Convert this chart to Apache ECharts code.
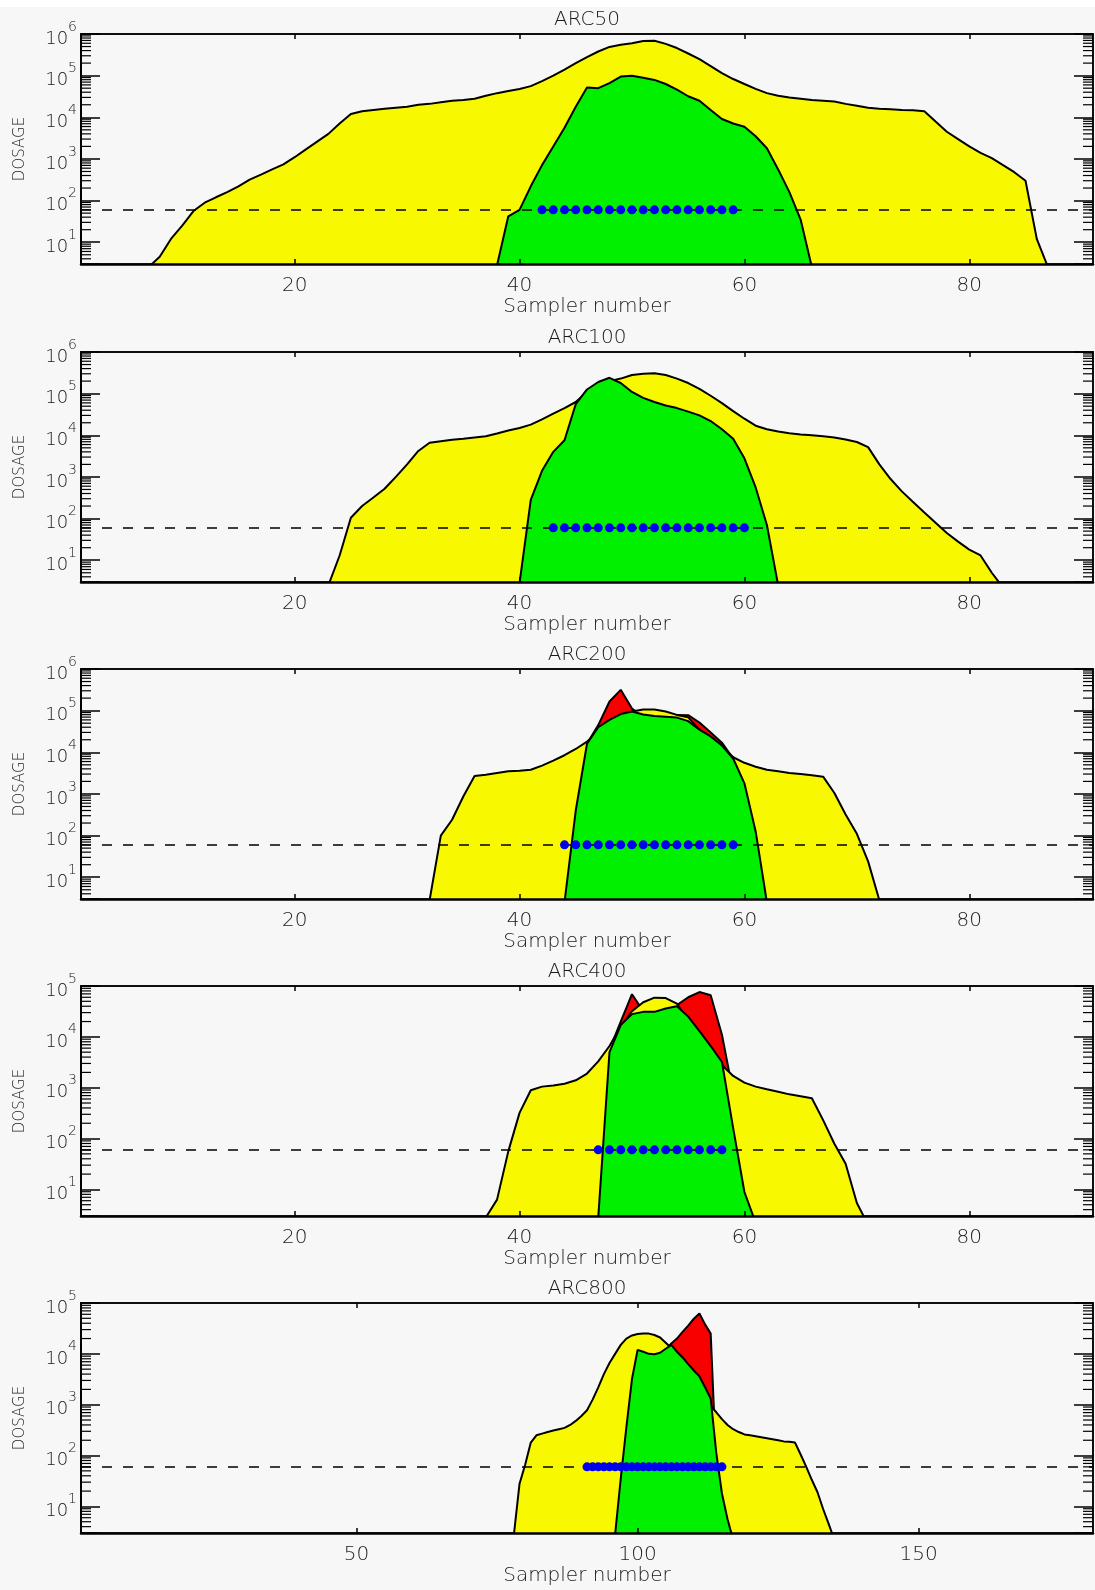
<!DOCTYPE html>
<html>
<head>
<meta charset="utf-8">
<script src="https://cdn.jsdelivr.net/npm/echarts@6/dist/echarts.min.js"></script>
<style>
html,body{margin:0;padding:0;background:#f7f7f7;}
#strip{position:absolute;left:0;top:0;width:1095px;height:7px;background:#ffffff;}
#chart{position:absolute;left:0;top:0;width:1095px;height:1590px;}
</style>
</head>
<body>
<div id="strip"></div>
<div id="chart"></div>
<script>
// ---------------- DATA ----------------
const TITLES = ['ARC50', 'ARC100', 'ARC200', 'ARC400', 'ARC800'];
const X_LABEL = 'Sampler number';
const Y_LABEL = 'DOSAGE';
const THRESHOLD = 60;

const X_TICKS_91 = [20, 40, 60, 80];
const X_TICKS_181 = [50, 100, 150];
const MINOR_TICKS_1E6 = [4,5,6,7,8,9,20,30,40,50,60,70,80,90,200,300,400,500,600,700,800,900,
  2000,3000,4000,5000,6000,7000,8000,9000,20000,30000,40000,50000,60000,70000,80000,90000,
  200000,300000,400000,500000,600000,700000,800000,900000];
const MINOR_TICKS_1E5 = [4,5,6,7,8,9,20,30,40,50,60,70,80,90,200,300,400,500,600,700,800,900,
  2000,3000,4000,5000,6000,7000,8000,9000,20000,30000,40000,50000,60000,70000,80000,90000];

// [sampler, dosage]
const ARC50_YELLOW = [[7,2.5],[8,4.5],[9,12],[10,25],[11,56],[12,89],[13,120],[14,160],[15,220],[16,320],
  [17,420],[18,560],[19,740],[20,1100],[21,1700],[22,2600],[23,4000],[24,7100],[25,12000],[26,14000],
  [27,15000],[28,16000],[29,17000],[30,18000],[31,20000],[32,21000],[33,23000],[34,25000],[35,26000],
  [36,28000],[37,33000],[38,38000],[39,43000],[40,48000],[41,56000],[42,74000],[43,100000],[44,140000],
  [45,200000],[46,280000],[47,380000],[48,490000],[49,550000],[50,600000],[51,680000],[52,690000],
  [53,580000],[54,460000],[55,340000],[56,250000],[57,170000],[58,115000],[59,83000],[60,63000],
  [61,48000],[62,38000],[63,33000],[64,30000],[65,28000],[66,26000],[67,25000],[68,24000],[69,21000],
  [70,19000],[71,17000],[72,16000],[73,15500],[74,15000],[75,14800],[76,14000],[77,7900],[78,4500],
  [79,3000],[80,2000],[81,1400],[82,1050],[83,710],[84,480],[85,300],[86,12],[87,2.5]];
const ARC50_GREEN = [[38,2.8],[39,42],[40,60],[41,220],[42,710],[43,2000],[44,5600],[45,18000],[46,52000],
  [47,50000],[48,66000],[49,95000],[50,100000],[51,89000],[52,79000],[53,63000],[54,46000],[55,32000],
  [56,25000],[57,15000],[58,9100],[59,7100],[60,5900],[61,3500],[62,1800],[63,560],[64,160],[65,35],[66,2.5]];
const ARC50_RED = [];
const ARC50_DOTS = [42,43,44,45,46,47,48,49,50,51,52,53,54,55,56,57,58,59];

const ARC100_YELLOW = [[23,2.5],[24,13],[25,105],[26,200],[27,320],[28,520],[29,1000],[30,2000],[31,4200],
  [32,6600],[33,7200],[34,7800],[35,8300],[36,8900],[37,9500],[38,11000],[39,13000],[40,15000],[41,18000],
  [42,24000],[43,33000],[44,45000],[45,63000],[46,110000],[47,170000],[48,200000],[49,230000],[50,280000],
  [51,300000],[52,310000],[53,280000],[54,230000],[55,180000],[56,130000],[57,89000],[58,59000],[59,38000],
  [60,25000],[61,17000],[62,14000],[63,12300],[64,11200],[65,10500],[66,10000],[67,9500],[68,8900],
  [69,7900],[70,6900],[71,5200],[72,2000],[73,890],[74,450],[75,250],[76,140],[77,79],[78,45],[79,28],
  [80,18],[81,13],[82,5],[83,2.2]];
const ARC100_GREEN = [[40,2.8],[41,280],[42,1400],[43,4000],[44,7600],[45,56000],[46,126000],[47,190000],
  [48,240000],[49,180000],[50,110000],[51,79000],[52,63000],[53,52000],[54,45000],[55,37000],[56,30000],
  [57,22000],[58,14000],[59,8300],[60,2800],[61,560],[62,70],[63,2.5]];
const ARC100_RED = [];
const ARC100_DOTS = [43,44,45,46,47,48,49,50,51,52,53,54,55,56,57,58,59,60];

const ARC200_YELLOW = [[32,2.8],[33,100],[34,240],[35,870],[36,2700],[37,2900],[38,3200],[39,3500],
  [40,3600],[41,3800],[42,4800],[43,6300],[44,8500],[45,12000],[46,18000],[47,32000],[48,52000],
  [49,76000],[50,95000],[51,107000],[52,107000],[53,95000],[54,79000],[55,69000],[56,35000],[57,22000],
  [58,14000],[59,7600],[60,5600],[61,4500],[62,3800],[63,3500],[64,3200],[65,3000],[66,2800],[67,2600],
  [68,1050],[69,320],[70,110],[71,24],[72,2.8]];
const ARC200_GREEN = [[44,2.5],[45,400],[46,16000],[47,40000],[48,60000],[49,83000],[50,95000],[51,81000],
  [52,74000],[53,71000],[54,68000],[55,56000],[56,35000],[57,24000],[58,14500],[59,7100],[60,1800],
  [61,126],[62,2.5]];
const ARC200_RED = [[46,16000],[47,45000],[48,166000],[49,316000],[50,112000],[51,71000],[52,71000],
  [53,76000],[54,79000],[55,78000],[56,52000],[57,30000],[58,17000],[59,7100]];
const ARC200_DOTS = [44,45,46,47,48,49,50,51,52,53,54,55,56,57,58,59];

const ARC400_YELLOW = [[37,2.8],[38,6.3],[39,56],[40,320],[41,890],[42,1050],[43,1100],[44,1200],
  [45,1400],[46,1900],[47,3300],[48,6600],[49,16000],[50,32000],[51,48000],[52,59000],[53,58000],
  [54,45000],[55,20000],[56,8900],[57,4500],[58,2800],[59,1700],[60,1260],[61,1050],[62,930],[63,830],
  [64,740],[65,680],[66,620],[67,230],[68,79],[69,32],[70,5.4],[71,2]];
const ARC400_GREEN = [[47,2.8],[48,5000],[49,17000],[50,28000],[51,31000],[52,31000],[53,36000],
  [54,40000],[55,25000],[56,13000],[57,6600],[58,3200],[59,160],[60,8.9],[61,2.2]];
const ARC400_RED = [[48,5600],[49,20000],[50,69000],[51,32000],[52,31000],[53,35000],[54,42000],
  [55,60000],[56,76000],[57,66000],[58,11000],[59,800]];
const ARC400_DOTS = [47,48,49,50,51,52,53,54,55,56,57,58];

const ARC800_YELLOW = [[78,2.8],[79,28],[80,66],[81,180],[82,250],[83,270],[84,290],[85,310],[86,330],
  [87,350],[88,400],[89,480],[90,600],[91,780],[92,1260],[93,2200],[94,4000],[95,6600],[96,10000],
  [97,15000],[98,20000],[99,23000],[100,24500],[101,25000],[102,25000],[103,23500],[104,21000],
  [105,16600],[106,13000],[107,8900],[108,6300],[109,4500],[110,3200],[111,2200],[112,1400],[113,950],
  [114,710],[115,520],[116,400],[117,330],[118,290],[119,260],[120,250],[121,240],[122,230],[123,220],
  [124,210],[125,200],[126,190],[127,186],[128,180],[129,105],[130,60],[131,33],[132,19],[133,8.9],
  [134,4.5],[135,2.2]];
const ARC800_GREEN = [[96,2.8],[97,35],[98,360],[99,3200],[100,12000],[101,11000],[102,10000],[103,9800],
  [104,10500],[105,12600],[106,15000],[107,11000],[108,8500],[109,6300],[110,4700],[111,3600],
  [112,2200],[113,1320],[114,112],[115,18],[116,5.6],[117,2.2]];
const ARC800_RED = [[104,8900],[105,12000],[106,16000],[107,20000],[108,27000],[109,36000],[110,49000],
  [111,62000],[112,38000],[113,25000],[114,63]];
const ARC800_DOTS = [91,92,93,94,95,96,97,98,99,100,101,102,103,104,105,106,107,108,109,110,111,112,113,114,115];

// ---------------- STYLE / LAYOUT ----------------
const FONT = 'DejaVu Sans';
const FW = 200;
const TXT = '#1a1a1a';
const YELLOW = '#f8f800';
const GREEN = '#00f000';
const RED = '#f80000';
const BLUE = '#0000f0';

const PANELS = [
  {title: TITLES[0], yellow: ARC50_YELLOW, green: ARC50_GREEN, red: ARC50_RED, dots: ARC50_DOTS, xMax: 91, xTicks: X_TICKS_91, yMax: 1e6, minor: MINOR_TICKS_1E6},
  {title: TITLES[1], yellow: ARC100_YELLOW, green: ARC100_GREEN, red: ARC100_RED, dots: ARC100_DOTS, xMax: 91, xTicks: X_TICKS_91, yMax: 1e6, minor: MINOR_TICKS_1E6},
  {title: TITLES[2], yellow: ARC200_YELLOW, green: ARC200_GREEN, red: ARC200_RED, dots: ARC200_DOTS, xMax: 91, xTicks: X_TICKS_91, yMax: 1e6, minor: MINOR_TICKS_1E6},
  {title: TITLES[3], yellow: ARC400_YELLOW, green: ARC400_GREEN, red: ARC400_RED, dots: ARC400_DOTS, xMax: 91, xTicks: X_TICKS_91, yMax: 1e5, minor: MINOR_TICKS_1E5},
  {title: TITLES[4], yellow: ARC800_YELLOW, green: ARC800_GREEN, red: ARC800_RED, dots: ARC800_DOTS, xMax: 181, xTicks: X_TICKS_181, yMax: 1e5, minor: MINOR_TICKS_1E5}
];
const X_MIN = 1;
const Y_MIN = 3;
const TOPS = [34, 352, 669, 986, 1303];
const GRID_LEFT = 81, GRID_W = 1012, GRID_H = 230;

const grids = [], xAxes = [], yAxes = [], series = [], graphics = [];

function yFormatter(v) {
  const l = Math.log10(v);
  const e = Math.round(l);
  if (Math.abs(l - e) > 1e-6) return '';
  return '{b|10}{s|' + e + '}';
}

PANELS.forEach((p, i) => {
  grids.push({left: GRID_LEFT, top: TOPS[i], width: GRID_W, height: GRID_H,
    show: true, borderColor: '#000', borderWidth: 1.5, backgroundColor: 'transparent'});
  // bottom x axis
  xAxes.push({gridIndex: i, type: 'value', min: X_MIN, max: p.xMax, position: 'bottom', z: 10,
    name: X_LABEL, nameLocation: 'middle', nameGap: 32,
    nameTextStyle: {fontFamily: FONT, fontWeight: FW, fontSize: 20, color: TXT, verticalAlign: 'top'},
    axisLine: {show: true, onZero: false, lineStyle: {color: '#000', width: 2.5}},
    axisTick: {show: true, inside: true, length: 5, customValues: p.xTicks, lineStyle: {color: '#000', width: 1.5}},
    axisLabel: {show: true, customValues: p.xTicks, margin: 12, fontFamily: FONT, fontWeight: FW, fontSize: 20, color: TXT},
    splitLine: {show: false}});
  // top x axis
  xAxes.push({gridIndex: i, type: 'value', min: X_MIN, max: p.xMax, position: 'top', z: 10,
    axisLine: {show: true, onZero: false, lineStyle: {color: '#000', width: 1.5}},
    axisTick: {show: true, inside: true, length: 5, customValues: p.xTicks, lineStyle: {color: '#000', width: 1.5}},
    axisLabel: {show: false}, splitLine: {show: false}});
  // left y axis (log)
  yAxes.push({gridIndex: i, type: 'log', logBase: 10, min: Y_MIN, max: p.yMax, position: 'left', z: 10,
    name: Y_LABEL, nameLocation: 'middle', nameGap: 53, nameRotate: 90,
    nameTextStyle: {fontFamily: FONT, fontWeight: FW, fontSize: 15, color: TXT},
    axisLine: {show: true, onZero: false, lineStyle: {color: '#000', width: 2}},
    axisTick: {show: true, inside: true, length: 19, lineStyle: {color: '#000', width: 1.5}},
    axisLabel: {show: true, margin: 4, formatter: yFormatter, color: TXT,
      rich: {
        b: {fontFamily: FONT, fontWeight: FW, fontSize: 18, color: TXT, lineHeight: 28, verticalAlign: 'bottom'},
        s: {fontFamily: FONT, fontWeight: FW, fontSize: 14, color: TXT, lineHeight: 14, verticalAlign: 'top'}
      }},
    splitLine: {show: false}});
  // right y axis
  yAxes.push({gridIndex: i, type: 'log', logBase: 10, min: Y_MIN, max: p.yMax, position: 'right', z: 10,
    axisLine: {show: true, onZero: false, lineStyle: {color: '#000', width: 1.5}},
    axisTick: {show: true, inside: true, length: 19, lineStyle: {color: '#000', width: 1.5}},
    axisLabel: {show: false}, splitLine: {show: false}});

  const xi = 2 * i, yi = 2 * i;
  const area = (data, color, z) => ({
    type: 'line', xAxisIndex: xi, yAxisIndex: yi, data: data, symbol: 'none', silent: true,
    clip: true, z: z, animation: false,
    lineStyle: {color: '#000', width: 2},
    areaStyle: {color: color, opacity: 1, origin: 'start'}
  });
  if (p.red.length) series.push(area(p.red, RED, 2));
  series.push(area(p.yellow, YELLOW, 3));
  series.push(area(p.green, GREEN, 4));
  series.push({type: 'scatter', xAxisIndex: xi, yAxisIndex: yi, z: 5, silent: true, animation: false,
    symbol: 'circle', symbolSize: 9, itemStyle: {color: BLUE, opacity: 1},
    data: p.dots.map(s => [s, THRESHOLD])});
  series.push({type: 'scatter', xAxisIndex: xi, yAxisIndex: yi, z: 6, silent: true, animation: false,
    data: [],
    markLine: {silent: true, symbol: ['none', 'none'], animation: false, label: {show: false},
      lineStyle: {color: '#000', type: [10, 11], width: 1.5},
      data: [{yAxis: THRESHOLD}]}});
  // logarithmic minor ticks on both y sides
  const xMax = p.xMax;
  series.push({type: 'custom', xAxisIndex: xi, yAxisIndex: yi, z: 10, silent: true, animation: false,
    data: p.minor.map(v => [X_MIN, v]),
    renderItem: function (params, api) {
      const v = api.value(1);
      const l = api.coord([X_MIN, v]);
      const r = api.coord([xMax, v]);
      return {type: 'group', children: [
        {type: 'line', shape: {x1: l[0], y1: l[1], x2: l[0] + 10, y2: l[1]}, style: {stroke: '#000', lineWidth: 1.2}},
        {type: 'line', shape: {x1: r[0] - 10, y1: r[1], x2: r[0], y2: r[1]}, style: {stroke: '#000', lineWidth: 1.2}}
      ]};
    }});

  graphics.push({type: 'text', x: GRID_LEFT + GRID_W / 2, y: TOPS[i] - 14, z: 20,
    style: {text: p.title, fontFamily: FONT, fontWeight: FW, fontSize: 20, fill: TXT, align: 'center', verticalAlign: 'middle'}});
});

const chart = echarts.init(document.getElementById('chart'), null, {renderer: 'canvas'});
chart.setOption({
  backgroundColor: 'transparent',
  animation: false,
  grid: grids,
  xAxis: xAxes,
  yAxis: yAxes,
  series: series,
  graphic: graphics
});
</script>
</body>
</html>
